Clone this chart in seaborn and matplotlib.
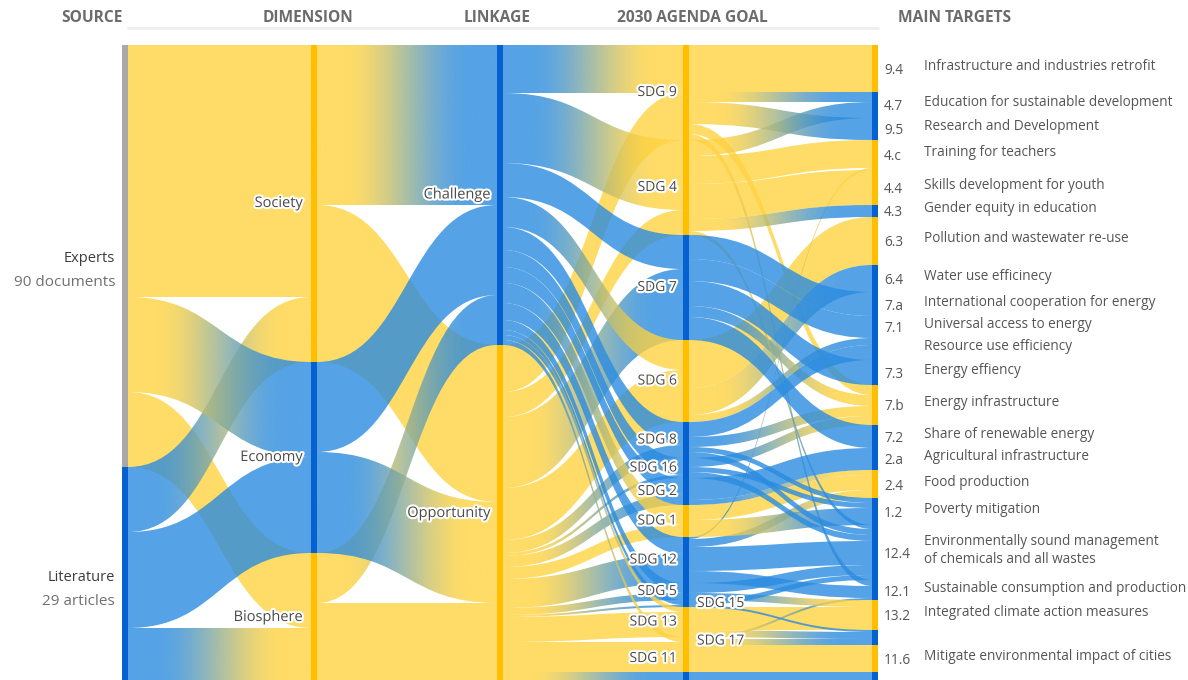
import numpy as np
import seaborn as sns
import matplotlib.pyplot as plt
from matplotlib.path import Path
from matplotlib.patches import PathPatch
from matplotlib.colors import to_rgb
import matplotlib.patheffects as pe

# ---- data ----
headers = ["SOURCE", "DIMENSION", "LINKAGE", "2030 AGENDA GOAL", "MAIN TARGETS"]

sources = ["Experts", "Literature"]
source_notes = ["90 documents", "29 articles"]
dimensions = ["Society", "Economy", "Biosphere"]
linkages = ["Challenge", "Opportunity"]
goals = ["SDG 9", "SDG 4", "SDG 7", "SDG 6", "SDG 8", "SDG 16", "SDG 2", "SDG 1",
         "SDG 12", "SDG 5", "SDG 15", "SDG 13", "SDG 17", "SDG 11", "end"]
target_ids = ["9.4", "4.7", "9.5", "4.c", "4.4", "4.3", "6.3", "6.4", "7.a", "7.1", "res",
              "7.3", "7.b", "7.2", "2.a", "2.4", "1.2", "12.4", "12.1", "13.2", "misc",
              "11.6", "end"]
target_codes = ["9.4", "4.7", "9.5", "4.c", "4.4", "4.3", "6.3", "6.4", "7.a", "7.1", "",
                "7.3", "7.b", "7.2", "2.a", "2.4", "1.2", "12.4", "12.1", "13.2", "",
                "11.6", ""]
target_names = ["Infrastructure and industries retrofit", "Education for sustainable development",
                "Research and Development", "Training for teachers", "Skills development for youth",
                "Gender equity in education", "Pollution and wastewater re-use",
                "Water use efficinecy", "International cooperation for energy",
                "Universal access to energy", "Resource use efficiency", "Energy effiency",
                "Energy infrastructure", "Share of renewable energy", "Agricultural infrastructure",
                "Food production", "Poverty mitigation",
                "Environmentally sound management\nof chemicals and all wastes",
                "Sustainable consumption and production", "Integrated climate action measures",
                "", "Mitigate environmental impact of cities", ""]

source_to_dimension = [("Experts", "Society", 252), ("Experts", "Economy", 95),
                       ("Experts", "Biosphere", 75), ("Literature", "Society", 65),
                       ("Literature", "Economy", 96), ("Literature", "Biosphere", 54)]

dimension_to_linkage = [("Society", "Challenge", 160), ("Society", "Opportunity", 157),
                        ("Economy", "Challenge", 90), ("Economy", "Opportunity", 101),
                        ("Biosphere", "Challenge", 50), ("Biosphere", "Opportunity", 79)]

challenge_to_goal = [48, 70, 34, 30, 23, 17, 16, 20, 17, 10, 5, 5, 5, 0, 0]
opportunity_to_goal = [47, 25, 71, 52, 13, 3, 11, 12, 29, 7, 2, 25, 3, 27, 10]

goal_to_target = [
    ("SDG 9", "9.4", 47), ("SDG 9", "4.7", 10), ("SDG 9", "9.5", 22), ("SDG 9", "7.b", 10),
    ("SDG 9", "12.1", 6),
    ("SDG 4", "4.7", 16), ("SDG 4", "4.c", 28), ("SDG 4", "4.4", 35), ("SDG 4", "4.3", 12),
    ("SDG 4", "12.4", 4),
    ("SDG 7", "7.a", 24), ("SDG 7", "7.1", 22), ("SDG 7", "7.3", 25), ("SDG 7", "7.b", 11),
    ("SDG 7", "7.2", 23),
    ("SDG 6", "6.3", 48), ("SDG 6", "6.4", 27), ("SDG 6", "res", 7),
    ("SDG 8", "res", 15), ("SDG 8", "7.b", 10), ("SDG 8", "1.2", 5), ("SDG 8", "12.4", 6),
    ("SDG 16", "7.b", 9), ("SDG 16", "1.2", 5), ("SDG 16", "12.4", 6),
    ("SDG 2", "2.a", 22), ("SDG 2", "2.4", 5),
    ("SDG 1", "2.4", 15), ("SDG 1", "1.2", 17),
    ("SDG 12", "4.c", 2), ("SDG 12", "2.4", 8), ("SDG 12", "12.4", 24), ("SDG 12", "12.1", 12),
    ("SDG 5", "12.4", 10), ("SDG 5", "13.2", 7),
    ("SDG 15", "12.4", 5), ("SDG 15", "misc", 2),
    ("SDG 13", "13.2", 23), ("SDG 13", "misc", 7),
    ("SDG 17", "12.1", 2), ("SDG 17", "misc", 6),
    ("SDG 11", "11.6", 27),
    ("end", "end", 10),
]

# ---- style ----
YEL, BLU = "#FFD341", "#2B8CE0"
YEL_BAR, BLU_BAR, GREY_BAR = "#FFBE00", "#0560D0", "#A8A8A8"
tone = {"Experts": "y", "Literature": "b", "Society": "y", "Economy": "b", "Biosphere": "y",
        "Challenge": "b", "Opportunity": "y"}
tone.update(dict(zip(goals, "yybybbbybbbyyyb")))
target_tone = dict(zip(target_ids, "ybbyybybbbbbybbybbbybyb"))
col_x = [125, 314, 500, 686, 875]
TOP = 45
BAR_W = 6

linkage_to_goal = [("Challenge", g, v) for g, v in zip(goals, challenge_to_goal) if v] + \
                  [("Opportunity", g, v) for g, v in zip(goals, opportunity_to_goal) if v]

columns = [[("s", n) for n in sources], [("d", n) for n in dimensions],
           [("l", n) for n in linkages], [("g", n) for n in goals],
           [("t", n) for n in target_ids]]
stages = [("s", "d", source_to_dimension), ("d", "l", dimension_to_linkage),
          ("l", "g", linkage_to_goal), ("g", "t", goal_to_target)]

# node sizes and positions
size = {}
for a, b, flows in stages:
    for s, t, v in flows:
        size.setdefault((a, s), [0, 0])[1] += v
        size.setdefault((b, t), [0, 0])[0] += v
node_top, node_h, node_col = {}, {}, {}
for ci, col in enumerate(columns):
    y = TOP
    for key in col:
        h = max(size.get(key, [0, 0]))
        node_top[key], node_h[key], node_col[key] = y, h, ci
        y += h
order = {key: i for col in columns for i, key in enumerate(col)}


def flow_colour(key):
    if key[0] == "t":
        return YEL if target_tone[key[1]] == "y" else BLU
    return YEL if tone[key[1]] == "y" else BLU


def bar_colour(key):
    if key == ("s", "Experts"):
        return GREY_BAR
    return YEL_BAR if flow_colour(key) == YEL else BLU_BAR


sns.set_theme(style="white")
plt.rcParams["font.family"] = ["Open Sans", "DejaVu Sans"]
fig = plt.figure(figsize=(11.88, 6.8), dpi=100)
ax = fig.add_axes([0, 0, 1, 1])


def ribbon(x0, x1, y0a, y0b, y1a, y1b, c0, c1, alpha=0.8):
    # blue ribbons drawn above yellow ones so that crossings turn teal
    z = 1 + 0.1 * ((c0 == BLU) + (c1 == BLU))
    xm = (x0 + x1) / 2
    verts = [(x0, y0a), (xm, y0a), (xm, y1a), (x1, y1a), (x1, y1b),
             (xm, y1b), (xm, y0b), (x0, y0b), (x0, y0a)]
    codes = [Path.MOVETO, Path.CURVE4, Path.CURVE4, Path.CURVE4, Path.LINETO,
             Path.CURVE4, Path.CURVE4, Path.CURVE4, Path.CLOSEPOLY]
    path = Path(verts, codes)
    if c0 == c1:
        ax.add_patch(PathPatch(path, facecolor=c0, edgecolor="none", alpha=alpha, zorder=z))
        return
    patch = PathPatch(path, facecolor="none", edgecolor="none", zorder=z)
    ax.add_patch(patch)
    t = np.clip((np.linspace(0, 1, 256) - 0.15) / 0.7, 0, 1)
    t = t * t * (3 - 2 * t)
    a, b = np.array(to_rgb(c0)), np.array(to_rgb(c1))
    img = np.ones((1, 256, 4))
    img[0, :, :3] = (1 - t)[:, None] * a + t[:, None] * b
    img[0, :, 3] = alpha
    im = ax.imshow(img, extent=(x0, x1, max(y0b, y1b), min(y0a, y1a)), aspect="auto",
                   interpolation="bilinear", zorder=z)
    im.set_clip_path(patch)


for a, b, flows in stages:
    out_off, in_off = {}, {}
    src_sorted = sorted(flows, key=lambda f: (order[(a, f[0])], order[(b, f[1])]))
    starts = {}
    for s, t, v in src_sorted:
        k = (a, s)
        o = out_off.get(k, 0)
        starts[(s, t)] = node_top[k] + o
        out_off[k] = o + v
    dst_sorted = sorted(flows, key=lambda f: (order[(b, f[1])], order[(a, f[0])]))
    for s, t, v in dst_sorted:
        k = (b, t)
        o = in_off.get(k, 0)
        y1 = node_top[k] + o
        in_off[k] = o + v
        y0 = starts[(s, t)]
        x0 = col_x[node_col[(a, s)]] + BAR_W / 2
        x1 = col_x[node_col[k]] - BAR_W / 2
        ribbon(x0, x1, y0, y0 + v, y1, y1 + v, flow_colour((a, s)), flow_colour(k))

# node bars
for col in columns:
    keys = [k for k in col if node_h[k] > 0]
    ax.bar([col_x[node_col[k]] for k in keys], [node_h[k] for k in keys],
           bottom=[node_top[k] for k in keys], width=BAR_W,
           color=[bar_colour(k) for k in keys], linewidth=0, zorder=3)

halo = [pe.withStroke(linewidth=3, foreground="white")]
label_c = "#4a4a4a"


def mid(key):
    return node_top[key] + node_h[key] / 2


for n, note in zip(sources, source_notes):
    y = mid(("s", n))
    ax.text(115, y + 3, n, ha="right", va="center", fontsize=10.5, color="#3c3c3c")
    ax.text(115, y + 27, note, ha="right", va="center", fontsize=11, color="#707070")
for n in dimensions:
    ax.text(303, mid(("d", n)), n, ha="right", va="center", fontsize=10.5,
            color=label_c, path_effects=halo, zorder=5)
for n in linkages:
    ax.text(491, mid(("l", n)), n, ha="right", va="center", fontsize=10.5,
            color=label_c, path_effects=halo, zorder=5)
for n in goals:
    if n == "end":
        continue
    right = n in ("SDG 15", "SDG 17")
    ax.text(697 if right else 677, mid(("g", n)), n, ha="left" if right else "right",
            va="center", fontsize=10, color=label_c, path_effects=halo, zorder=5)
for tid, code, name in zip(target_ids, target_codes, target_names):
    y = mid(("t", tid))
    ax.text(884, y + 2, code, ha="left", va="center", fontsize=9.8, color="#555555")
    ax.text(924, y - 2, name, ha="left", va="center", fontsize=9.8, color="#555555",
            linespacing=1.35)

header_x = [92, 308, 497, 692, 955]
for hx, h in zip(header_x, headers):
    ax.text(hx, 18, h, ha="center", va="center", fontsize=11.2, fontweight="bold",
            color="#6b6b6b")
ax.plot([128, 878], [28, 28], color="#efefef", lw=2, zorder=0)

ax.set_xlim(0, 1188)
ax.set_ylim(680, 0)
ax.axis("off")
fig.savefig("out.png", dpi=100)
